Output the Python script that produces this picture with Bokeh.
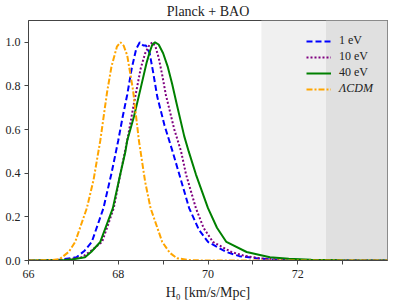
from bokeh.plotting import figure
from bokeh.models import (Legend, LegendItem, BoxAnnotation, FixedTicker,
                          PrintfTickFormatter, Range1d)
from bokeh.embed import file_html
from bokeh.resources import INLINE

# ---- data ----
lcdm_x = [66.0, 66.5, 66.7, 66.9, 67.04, 67.3, 67.45, 67.6, 67.75, 67.85, 67.97, 68.05,
          68.12, 68.2, 68.33, 68.46, 68.6, 68.72, 68.98, 69.15, 69.31, 69.6, 69.9, 74.0]
lcdm_y = [0.0, 0.002, 0.007, 0.04, 0.085, 0.24, 0.37, 0.55, 0.77, 0.89, 0.98, 1.0,
          0.985, 0.94, 0.78, 0.55, 0.36, 0.24, 0.085, 0.035, 0.01, 0.002, 0.0, 0.0]

ev1_x = [66.0, 66.6, 67.07, 67.25, 67.41, 67.67, 67.85, 67.95, 68.0, 68.1, 68.2, 68.3,
         68.4, 68.48, 68.56, 68.62, 68.7, 68.78, 68.87, 69.03, 69.21, 69.36, 69.58,
         69.8, 70.0, 70.41, 70.7, 71.08, 71.5, 72.0, 72.5, 74.0]
ev1_y = [0.0, 0.001, 0.015, 0.045, 0.085, 0.24, 0.40, 0.50, 0.55, 0.66, 0.76, 0.88,
         0.97, 1.0, 0.985, 0.985, 0.95, 0.86, 0.75, 0.62, 0.50, 0.395, 0.24,
         0.14, 0.085, 0.039, 0.02, 0.01, 0.004, 0.001, 0.0, 0.0]

ev10_x = [66.0, 66.8, 67.19, 67.4, 67.64, 67.9, 68.05, 68.2, 68.35, 68.5, 68.6, 68.7,
          68.76, 68.83, 68.9, 68.98, 69.06, 69.25, 69.40, 69.51, 69.73, 69.9, 70.11,
          70.52, 70.8, 71.16, 71.6, 72.2, 72.8, 74.0]
ev10_y = [0.0, 0.002, 0.015, 0.045, 0.085, 0.24, 0.40, 0.55, 0.72, 0.88, 0.95, 0.99,
          1.0, 0.98, 0.93, 0.85, 0.76, 0.60, 0.50, 0.395, 0.24, 0.15, 0.085,
          0.039, 0.022, 0.01, 0.004, 0.001, 0.0, 0.0]

ev40_x = [66.0, 66.8, 67.0, 67.26, 67.4, 67.6, 67.88, 68.05, 68.16, 68.2, 68.35,
          68.5, 68.63, 68.7, 68.76, 68.82, 68.9, 69.0, 69.1, 69.2, 69.3, 69.47, 69.57,
          69.73, 70.0, 70.2, 70.41, 70.86, 71.38, 71.8, 72.3, 73.0, 74.0]
ev40_y = [0.0, 0.002, 0.006, 0.015, 0.04, 0.085, 0.24, 0.40, 0.50, 0.55, 0.66,
          0.79, 0.905, 0.955, 0.99, 1.0, 0.99, 0.95, 0.89, 0.81, 0.72, 0.57, 0.50,
          0.395, 0.24, 0.15, 0.085, 0.039, 0.015, 0.008, 0.003, 0.001, 0.0]

x_major = [66, 68, 70, 72]
x_minor = [67, 69, 71, 73]
y_ticks = [0.0, 0.2, 0.4, 0.6, 0.8, 1.0]
band_light = (71.19, 74.0)
band_dark = (72.63, 74.0)

FONT = "Liberation Serif"

p = figure(width=389, height=302, output_backend="svg", toolbar_location=None,
           x_range=Range1d(66, 74), y_range=Range1d(0, 1.1),
           title="Planck + BAO", min_border_left=28, min_border_right=2,
           min_border_top=19, min_border_bottom=40)

p.title.align = "center"
p.title.text_font = FONT
p.title.text_font_size = "14px"
p.title.text_font_style = "normal"
p.title.text_color = "#222222"
p.title.standoff = 3
p.title.offset = 0

p.grid.visible = False
p.background_fill_color = "white"
p.outline_line_color = "#444444"
p.outline_line_width = 1

p.add_layout(BoxAnnotation(left=band_light[0], right=band_light[1],
                           fill_color="#f0f0f0", fill_alpha=1.0, line_alpha=0,
                           level="underlay"))
p.add_layout(BoxAnnotation(left=band_dark[0], right=band_dark[1],
                           fill_color="#e0e0e0", fill_alpha=1.0, line_alpha=0,
                           level="underlay"))

r1 = p.line(ev1_x, ev1_y, line_color="#0000ff", line_width=2, line_dash="6 3")
r2 = p.line(ev10_x, ev10_y, line_color="#800080", line_width=2, line_dash="2 2")
r3 = p.line(ev40_x, ev40_y, line_color="#008000", line_width=2)
r4 = p.line(lcdm_x, lcdm_y, line_color="#ffa500", line_width=2, line_dash="6 2 2 2")

xa = p.xaxis[0]
xa.ticker = FixedTicker(ticks=x_major, minor_ticks=x_minor)
xa.axis_label = "H₀ [km/s/Mpc]"
ya = p.yaxis[0]
ya.ticker = FixedTicker(ticks=y_ticks, minor_ticks=[])
ya.formatter = PrintfTickFormatter(format="%.1f")

for ax in (xa, ya):
    ax.axis_line_color = "#444444"
    ax.major_tick_line_color = "#444444"
    ax.minor_tick_line_color = "#444444"
    ax.major_tick_out = 4
    ax.major_tick_in = 0
    ax.minor_tick_out = 4
    ax.minor_tick_in = 0
    ax.major_label_text_font = FONT
    ax.major_label_text_font_size = "12px"
    ax.major_label_text_color = "#222222"
    ax.axis_label_text_font = FONT
    ax.axis_label_text_font_size = "14px"
    ax.axis_label_text_font_style = "normal"
    ax.axis_label_text_color = "#222222"
xa.axis_label_standoff = 4
xa.major_label_standoff = 5
ya.major_label_standoff = 4

def style_legend(lg):
    lg.background_fill_alpha = 0
    lg.border_line_alpha = 0
    lg.label_text_font = FONT
    lg.label_text_font_size = "12px"
    lg.label_text_color = "#222222"
    lg.glyph_width = 25
    lg.glyph_height = 14
    lg.spacing = 1
    lg.padding = 0
    lg.margin = 0
    lg.label_standoff = 8
    lg.label_height = 14

leg1 = Legend(items=[LegendItem(label="1 eV", renderers=[r1]),
                     LegendItem(label="10 eV", renderers=[r2]),
                     LegendItem(label="40 eV", renderers=[r3])],
              location=(278, 180))
style_legend(leg1)
leg2 = Legend(items=[LegendItem(label="ΛCDM", renderers=[r4])],
              location=(278, 164))
style_legend(leg2)
leg2.label_text_font_style = "italic"
p.add_layout(leg1)
p.add_layout(leg2)

open("out.html", "w").write(file_html(p, INLINE))
